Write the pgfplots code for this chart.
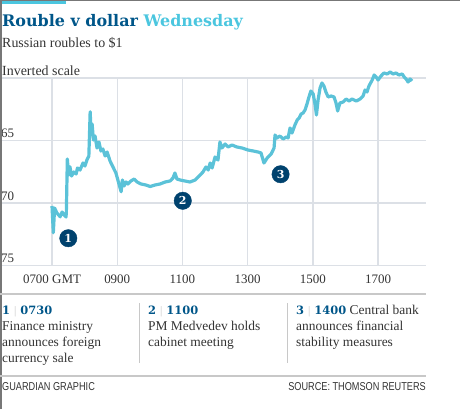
\documentclass[border=0pt]{standalone}
\usepackage{fontspec}
\setmainfont{Liberation Serif}
\newfontfamily\titlefont{DejaVu Serif}
\newfontfamily\agate{Liberation Sans}[FakeStretch=0.8]
\usepackage{pgfplots}
\pgfplotsset{compat=1.18}
\definecolor{gblue}{HTML}{005689}
\definecolor{lblue}{HTML}{4BC6DF}
\definecolor{linecol}{HTML}{5BC2D8}
\definecolor{gridcol}{HTML}{DCE0E6}
\definecolor{txt}{HTML}{333333}
\definecolor{navy}{HTML}{00426E}
\definecolor{rulecol}{HTML}{C8C8C8}
\definecolor{framecol}{HTML}{777777}
\begin{document}
\begin{tikzpicture}[x=1bp,y=1bp]
\useasboundingbox (0,0) rectangle (460,409);
\begin{axis}[
  at={(0bp,143.5bp)}, anchor=south west,
  scale only axis, width=426bp, height=187.5bp,
  xmin=5.405, xmax=18.47, ymin=60, ymax=75,
  y dir=reverse, clip=false,
  axis line style={draw=none},
  major tick length=0pt,
  grid=major, grid style={gridcol, line width=1.4bp},
  xtick={7,9,11,13,15,17},
  xticklabels={0700 GMT,0900,1100,1300,1500,1700},
  ytick={60,65,70,75},
  yticklabels={,65,70,75},
  /pgf/number format/assume math mode=true,
  xticklabel style={font=\fontsize{13}{13}\selectfont, text=txt, yshift=-5.5bp},
  yticklabel style={font=\fontsize{13}{13}\selectfont, text=txt, anchor=south west, inner sep=0pt, xshift=1bp, yshift=2.5bp},
]
\addplot[linecol, line width=3.2bp, line join=round] coordinates {
(7.00,70.24) (7.04,72.38) (7.08,70.40) (7.15,70.80) (7.25,71.10) (7.31,70.72)
(7.37,70.96) (7.43,71.12) (7.44,70.72) (7.47,66.48) (7.51,67.76) (7.55,67.10)
(7.60,67.84) (7.67,67.52) (7.74,67.68) (7.78,67.20) (7.86,67.36) (7.95,66.80)
(8.01,67.04) (8.07,66.56) (8.13,66.24) (8.17,62.70) (8.20,64.40) (8.23,63.68)
(8.27,64.96) (8.32,64.64) (8.38,65.60) (8.44,65.12) (8.50,65.84) (8.56,65.68)
(8.63,66.24) (8.69,65.92) (8.78,66.64) (8.87,67.12) (8.96,67.60) (9.02,68.16)
(9.07,68.64) (9.12,69.10) (9.16,68.16) (9.21,68.64) (9.27,68.32) (9.33,68.48)
(9.42,68.24) (9.52,68.08) (9.61,68.32) (9.73,68.48) (9.88,68.56) (10.01,68.68)
(10.16,68.56) (10.31,68.48) (10.47,68.32) (10.62,68.24) (10.71,68.00) (10.77,67.60)
(10.83,68.08) (10.93,68.16) (11.08,68.24) (11.23,68.32) (11.39,68.16) (11.51,67.84)
(11.63,67.52) (11.72,67.12) (11.79,67.36) (11.85,66.80) (11.91,67.20) (12.00,66.32)
(12.09,66.56) (12.15,65.12) (12.21,65.60) (12.31,65.28) (12.40,65.52) (12.52,65.36)
(12.67,65.52) (12.83,65.60) (13.01,65.76) (13.17,65.84) (13.32,65.92) (13.41,66.00)
(13.50,66.80) (13.60,66.40) (13.72,66.08) (13.81,65.60) (13.84,64.56) (13.90,64.80)
(13.99,64.64) (14.09,64.88) (14.18,64.72) (14.24,64.80) (14.30,64.00) (14.36,64.40)
(14.45,63.76) (14.52,63.36) (14.58,63.20) (14.64,62.88) (14.70,62.80) (14.76,62.56)
(14.82,62.08) (14.88,61.52) (14.94,61.04) (15.01,61.28) (15.07,62.16) (15.11,62.96)
(15.16,61.76) (15.22,60.80) (15.28,60.40) (15.34,60.64) (15.40,61.12) (15.47,61.52)
(15.56,61.44) (15.65,61.52) (15.71,62.00) (15.76,62.64) (15.83,62.00) (15.93,61.92)
(16.02,61.68) (16.11,61.84) (16.20,61.68) (16.33,61.84) (16.45,61.68) (16.54,61.44)
(16.60,60.96) (16.66,61.12) (16.72,60.64) (16.82,60.16) (16.88,59.76) (16.94,59.92)
(17.00,60.16) (17.09,59.84) (17.18,59.60) (17.28,59.68) (17.37,59.52) (17.46,59.68)
(17.55,59.60) (17.64,59.76) (17.74,59.68) (17.80,59.92) (17.86,60.08) (17.92,60.32)
(17.98,60.08) (18.04,60.24)
};
\addplot[only marks, mark=*, mark size=8.7bp, navy, mark options={draw=navy, fill=navy},
  nodes near coords, point meta=explicit symbolic,
  every node near coord/.append style={anchor=center, text=white, inner sep=0pt,
    font=\titlefont\bfseries\fontsize{11}{11}\selectfont}]
  coordinates {(7.50,72.82)[1] (11.01,69.82)[2] (14.01,67.70)[3]};
\end{axis}
% frame
\fill[lblue] (0,405) rectangle (66,409);
\draw[framecol, line width=1.5bp] (0,408.25) -- (460,408.25);
\draw[framecol, line width=1.5bp] (0.75,0) -- (0.75,409);
% title
\node[anchor=base west, inner sep=0pt] at (2,383) {\titlefont\bfseries\fontsize{16}{16}\selectfont\color{gblue}Rouble v dollar \color{lblue}Wednesday};
\node[anchor=base west, inner sep=0pt, text=txt] at (2,362) {\fontsize{14}{14}\selectfont Russian roubles to \$1};
\node[anchor=base west, inner sep=0pt, text=txt] at (2,333.5) {\fontsize{14}{14}\selectfont Inverted scale};
% annotation rules
\draw[rulecol, line width=1.2bp] (0,115) -- (426,115);
\draw[rulecol, line width=1.2bp] (0,33) -- (426,33);
\draw[rulecol, line width=1bp] (139,106) -- (139,46);
\draw[rulecol, line width=1bp] (287,106) -- (287,46);
% column 1
\node[anchor=base west, inner sep=0pt] at (2,95) {\titlefont\bfseries\fontsize{11.5}{11.5}\selectfont\color{gblue}1 \textcolor{rulecol}{\normalfont|} 0730};
\node[anchor=base west, inner sep=0pt, text=txt] at (2,79) {\fontsize{13.5}{13.5}\selectfont Finance ministry};
\node[anchor=base west, inner sep=0pt, text=txt] at (2,63) {\fontsize{13.5}{13.5}\selectfont announces foreign};
\node[anchor=base west, inner sep=0pt, text=txt] at (2,47) {\fontsize{13.5}{13.5}\selectfont currency sale};
% column 2
\node[anchor=base west, inner sep=0pt] at (148,95) {\titlefont\bfseries\fontsize{11.5}{11.5}\selectfont\color{gblue}2 \textcolor{rulecol}{\normalfont|} 1100};
\node[anchor=base west, inner sep=0pt, text=txt] at (148,79) {\fontsize{13.5}{13.5}\selectfont PM Medvedev holds};
\node[anchor=base west, inner sep=0pt, text=txt] at (148,63) {\fontsize{13.5}{13.5}\selectfont cabinet meeting};
% column 3
\node[anchor=base west, inner sep=0pt] at (296,95) {{\titlefont\bfseries\fontsize{11.5}{11.5}\selectfont\color{gblue}3 \textcolor{rulecol}{\normalfont|} 1400}\textcolor{txt}{\fontsize{13.5}{13.5}\selectfont\ Central bank}};
\node[anchor=base west, inner sep=0pt, text=txt] at (296,79) {\fontsize{13.5}{13.5}\selectfont announces financial};
\node[anchor=base west, inner sep=0pt, text=txt] at (296,63) {\fontsize{13.5}{13.5}\selectfont stability measures};
% footer
\node[anchor=base west, inner sep=0pt, text=txt] at (2,19) {\agate\fontsize{11.5}{11.5}\selectfont GUARDIAN GRAPHIC};
\node[anchor=base east, inner sep=0pt, text=txt] at (426,19) {\agate\fontsize{11.5}{11.5}\selectfont SOURCE: THOMSON REUTERS};
\end{tikzpicture}
\end{document}
